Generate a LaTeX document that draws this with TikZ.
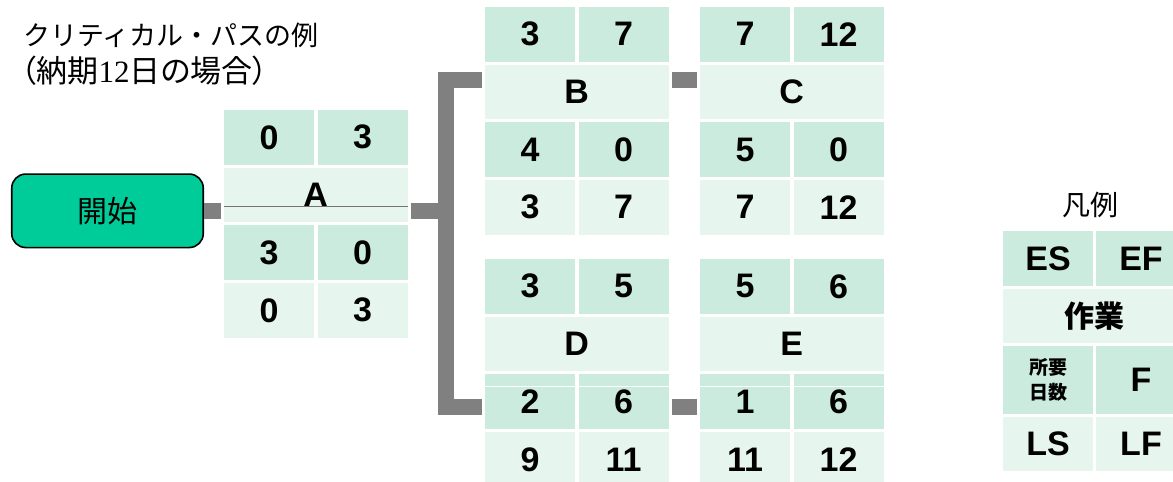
\documentclass[tikz,border=0pt]{standalone}
\usepackage{fontspec}
\setmainfont{Liberation Sans}
\newfontfamily\jpf{Noto Sans CJK JP}
\newfontfamily\jpp[RawFeature=+palt]{Noto Sans CJK JP}
\newfontfamily\serifnum{Liberation Serif}
\definecolor{cdark}{HTML}{CCEBDF}
\definecolor{clight}{HTML}{E6F5EE}
\definecolor{cstart}{HTML}{00CC99}
\definecolor{cconn}{HTML}{808080}
\begin{document}
\begin{tikzpicture}[x=1pt,y=-1pt,
  cell/.style={anchor=north west, minimum width=90pt, minimum height=54.6pt, inner sep=0pt, outer sep=0pt, font=\fontsize{34}{40}\selectfont\bfseries},
  wide/.style={cell, minimum width=183.5pt},
  dk/.style={fill=cdark}, lt/.style={fill=clight},
  conn/.style={draw=cconn, line width=16pt},
  startbox/.style={draw=black, line width=1.6pt, fill=cstart, rounded corners=14pt, minimum width=191.5pt, minimum height=73.5pt, inner sep=0pt, font=\jpf\fontsize{30}{36}\selectfont},
  ttl/.style={anchor=base west, inner sep=0pt}
]
\useasboundingbox (0,0) rectangle (1173,482);
\clip (0,0) rectangle (1173,482);
\fill[white] (0,0) rectangle (1173,482);

% title
\node[ttl, font=\jpf\fontsize{27}{32}\selectfont] (t1) at (23,45) {クリティカル・パスの例};
\node[ttl, font=\jpp\fontsize{31}{34}\selectfont] (t2) at (21,82) {（納期{\serifnum\fontsize{31}{32}\selectfont 12}日の場合）};

% start
\node[startbox] (start) at (107.5,210.8) {開始};

% block A
\node[cell,dk] (A1)  at (224,110) {0};
\node[cell,dk] (A1b) at (317.5,110) {3};
\node[wide,lt] (A2)  at (224,167.7) {A};
\node[cell,dk] (A3)  at (224,225.3) {3};
\node[cell,dk] (A3b) at (317.5,225.3) {0};
\node[cell,lt] (A4)  at (224,283) {0};
\node[cell,lt] (A4b) at (317.5,283) {3};
\draw[draw=black!55, line width=1pt] (A2.west |- 0,206) -- (A2.east |- 0,206);

% block B
\node[cell,dk] (B1)  at (485,7) {3};
\node[cell,dk] (B1b) at (578.5,7) {7};
\node[wide,lt] (B2)  at (485,64.7) {B};
\node[cell,dk] (B3)  at (485,122.3) {4};
\node[cell,dk] (B3b) at (578.5,122.3) {0};
\node[cell,lt] (B4)  at (485,180) {3};
\node[cell,lt] (B4b) at (578.5,180) {7};

% block C
\node[cell,dk] (C1)  at (700,7) {7};
\node[cell,dk] (C1b) at (793.5,7) {12};
\node[wide,lt] (C2)  at (700,64.7) {C};
\node[cell,dk] (C3)  at (700,122.3) {5};
\node[cell,dk] (C3b) at (793.5,122.3) {0};
\node[cell,lt] (C4)  at (700,180) {7};
\node[cell,lt] (C4b) at (793.5,180) {12};

% block D
\node[cell,dk] (D1)  at (485,259) {3};
\node[cell,dk] (D1b) at (578.5,259) {5};
\node[wide,lt] (D2)  at (485,316.7) {D};
\node[cell,dk] (D3)  at (485,374.3) {2};
\node[cell,dk] (D3b) at (578.5,374.3) {6};
\node[cell,lt] (D4)  at (485,432) {9};
\node[cell,lt] (D4b) at (578.5,432) {11};

% block E
\node[cell,dk] (E1)  at (700,259) {5};
\node[cell,dk] (E1b) at (793.5,259) {6};
\node[wide,lt] (E2)  at (700,316.7) {E};
\node[cell,dk] (E3)  at (700,374.3) {1};
\node[cell,dk] (E3b) at (793.5,374.3) {6};
\node[cell,lt] (E4)  at (700,432) {11};
\node[cell,lt] (E4b) at (793.5,432) {12};

\draw[white, line width=1pt] (D3.west |- 0,386) -- (D3b.east |- 0,386);
\draw[white, line width=1pt] (E3.west |- 0,386) -- (E3b.east |- 0,386);

% connectors
\coordinate (ya) at (0,211);
\coordinate (jt) at (446.3,80);
\coordinate (jb) at (446.3,406.5);
\draw[conn] (start.east |- ya) -- ([xshift=-3.3pt]A2.west |- ya);
\draw[conn] ([xshift=3pt]A2.east |- ya) -- (jt |- ya);
\draw[conn, line join=miter] ([xshift=-3pt]B2.west |- jt) -- (jt) -- (jb) -- ([xshift=-3pt]D3.west |- jb);
\draw[conn] ([xshift=3pt]B2.east |- jt) -- ([xshift=-3pt]C2.west |- jt);
\draw[conn] ([xshift=3pt]D3b.east |- jb) -- ([xshift=-3pt]E3.west |- jb);

% legend
\node[font=\jpf\fontsize{28}{34}\selectfont, inner sep=0pt] (lgt) at (1090,205) {凡例};
\node[cell,dk] (L1)  at (1003,231) {ES};
\node[cell,dk] (L1b) at (1096,231) {EF};
\node[wide,lt, minimum height=54pt, font=\jpf\bfseries\fontsize{30}{36}\selectfont] (L2) at (1003,289) {作業};
\node[cell,dk, minimum height=67.7pt, align=center, font=\jpf\bfseries\fontsize{19}{25}\selectfont] (L3) at (1003,346) {所要\\日数};
\node[cell,dk, minimum height=67.7pt] (L3b) at (1096,346) {F};
\node[cell,lt, minimum height=54pt] (L4)  at (1003,417) {LS};
\node[cell,lt, minimum height=54pt] (L4b) at (1096,417) {LF};
\end{tikzpicture}
\end{document}
